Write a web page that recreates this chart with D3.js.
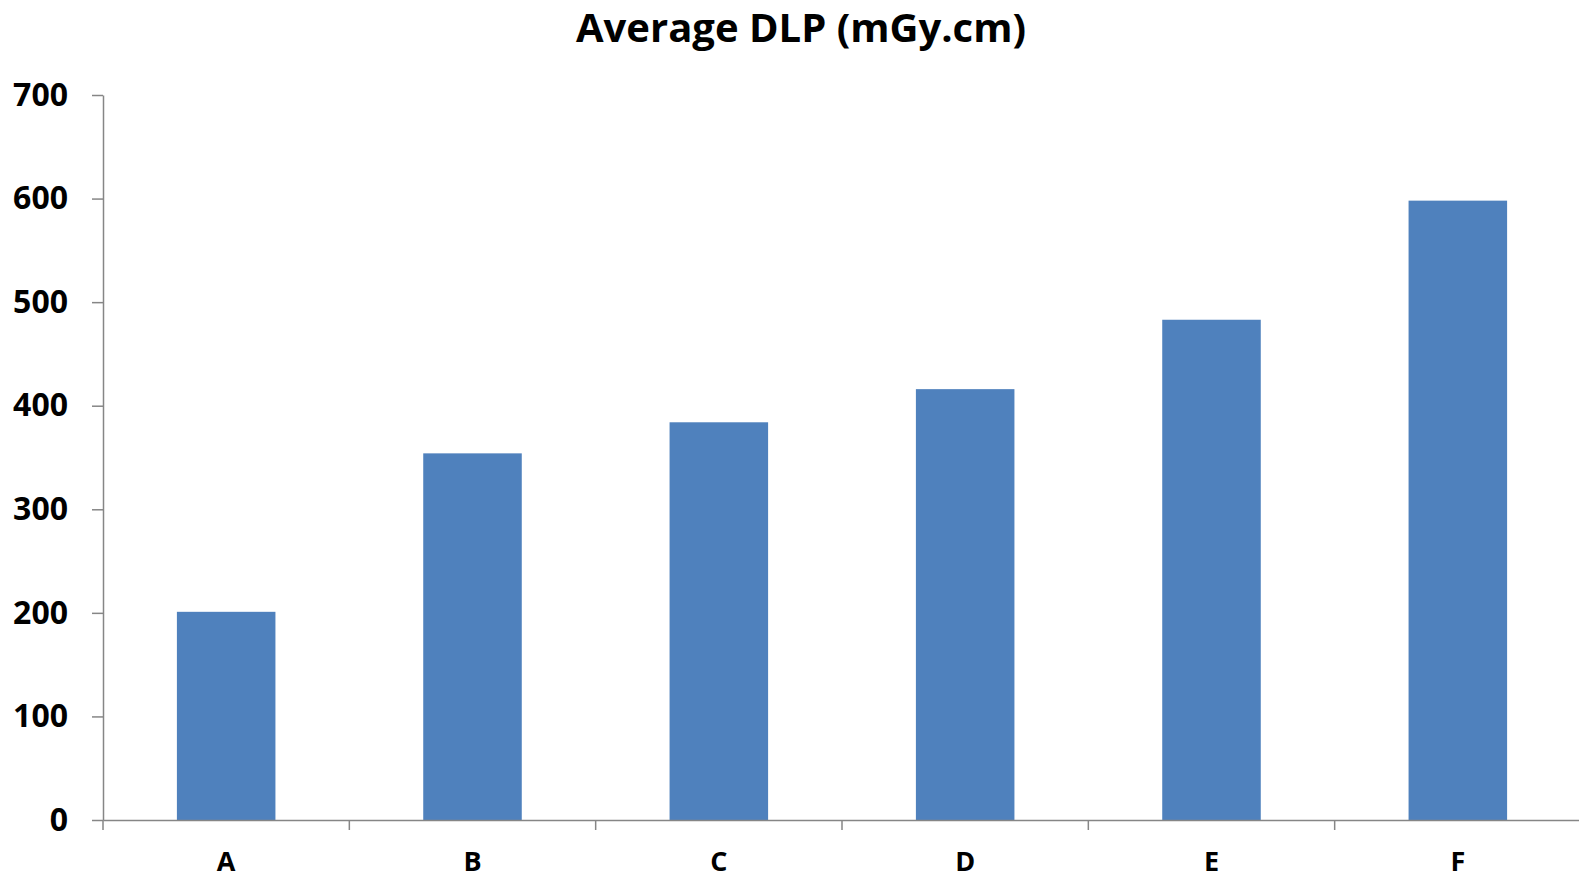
<!DOCTYPE html>
<html>
<head>
<meta charset="utf-8">
<script src="https://cdn.jsdelivr.net/npm/d3@7"></script>
<style>
  body { margin: 0; background: #fff; }
  svg { display: block; font-family: 'Open Sans', 'Noto Sans', sans-serif; }
</style>
</head>
<body>
<svg width="1579" height="875"></svg>
<script>
var categories = ['A', 'B', 'C', 'D', 'E', 'F']
var dlpValues = [201, 354, 384, 416, 483, 598]
var yTicks = [0, 100, 200, 300, 400, 500, 600, 700]
var chartTitle = 'Average DLP (mGy.cm)'

var drawChart = () => {
  var svg = d3.select('svg')
  var left = 103
  var right = 1581
  var top = 95
  var bottom = 820
  var axisColor = '#868686'

  var x = d3.scaleBand()
    .domain(categories)
    .range([left, right])
    .paddingInner(0.6)
    .paddingOuter(0.3)

  var y = d3.scaleLinear()
    .domain([0, 700])
    .range([bottom, top])

  // title
  svg.append('text')
    .attr('x', 801)
    .attr('y', 42)
    .attr('text-anchor', 'middle')
    .attr('font-size', 40)
    .attr('font-weight', 'bold')
    .attr('fill', '#000')
    .text(chartTitle)

  // bars
  svg.append('g')
    .attr('fill', '#4f81bd')
    .selectAll('rect').data(dlpValues).enter().append('rect')
    .attr('x', (d, i) => x(categories[i]))
    .attr('y', d => y(d))
    .attr('width', x.bandwidth())
    .attr('height', d => y(0) - y(d))

  // y axis
  var yAxis = svg.append('g')
    .attr('transform', 'translate(' + left + ',0)')
    .call(d3.axisLeft(y).tickValues(yTicks).tickSize(11).tickPadding(24).tickSizeOuter(0))
  yAxis.select('.domain').attr('stroke', axisColor).attr('stroke-width', 1.5)
  yAxis.selectAll('.tick line').attr('stroke', axisColor).attr('stroke-width', 1.5)
  yAxis.selectAll('.tick text')
    .attr('font-size', 32)
    .attr('font-weight', 'bold')
    .attr('fill', '#000')
    .attr('font-family', "'Open Sans', 'Noto Sans', sans-serif")

  // x axis: labels under bands, ticks on band boundaries
  var xAxis = svg.append('g')
    .attr('transform', 'translate(0,' + bottom + ')')
    .call(d3.axisBottom(x).tickSize(0).tickPadding(32).tickSizeOuter(0))
  xAxis.select('.domain').attr('stroke', axisColor).attr('stroke-width', 1.5)
  xAxis.selectAll('.tick text')
    .attr('font-size', 27)
    .attr('font-weight', 'bold')
    .attr('fill', '#000')
    .attr('font-family', "'Open Sans', 'Noto Sans', sans-serif")

  var edges = categories.map(c => x(c) - x.step() * x.paddingOuter())
  xAxis.append('g')
    .selectAll('line').data(edges).enter().append('line')
    .attr('x1', d => d)
    .attr('x2', d => d)
    .attr('y1', 0)
    .attr('y2', 10)
    .attr('stroke', axisColor)
    .attr('stroke-width', 1.5)
}

drawChart()
</script>
</body>
</html>
